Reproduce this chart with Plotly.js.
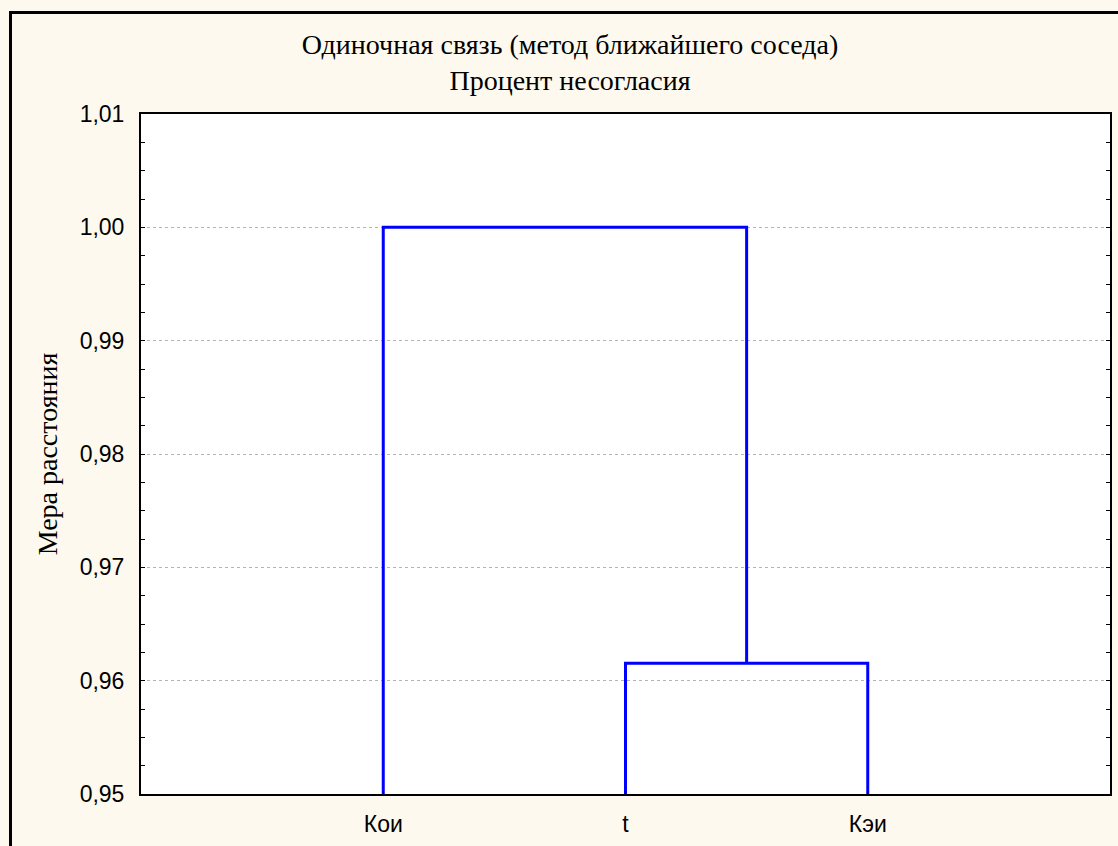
<!DOCTYPE html>
<html>
<head>
<meta charset="utf-8">
<script src="https://cdn.plot.ly/plotly-3.0.1.min.js"></script>
<style>
html,body{margin:0;padding:0;background:#FEF9EE;overflow:hidden;}
#wrap{position:relative;width:1118px;height:846px;overflow:hidden;}
#chart{width:1118px;height:846px;}
#frame{position:absolute;left:9px;top:11px;width:1200px;height:1000px;border-left:3px solid #000;border-top:3px solid #000;pointer-events:none;box-sizing:border-box;}
#mask{position:absolute;left:1112px;top:14px;width:10px;height:96px;background:#FEF9EE;pointer-events:none;}
</style>
</head>
<body>
<div id="wrap"><div id="chart"></div><div id="frame"></div><div id="mask"></div></div>
<script>
// ---- data ----
const leafLabels = ['Кои', 't', 'Кэи'];
// linkage: indices < n are leaves, index n+k is the cluster made at merge k
const mergeA = [1, 0];
const mergeB = [2, 3];
const mergeHeight = [0.961538, 1.00];
const yTickVals = [0.95, 0.96, 0.97, 0.98, 0.99, 1.00, 1.01];
const titleText = 'Одиночная связь (метод ближайшего соседа)<br>Процент несогласия';
const yTitle = 'Мера расстояния';

// ---- build dendrogram links ----
const yMin = 0.95, yMax = 1.01;
const n = leafLabels.length;
const nodeX = leafLabels.map((_, i) => i + 1);
const nodeY = leafLabels.map(() => yMin);
const xs = [], ys = [];
for (let k = 0; k < mergeHeight.length; k++) {
  const a = mergeA[k], b = mergeB[k], h = mergeHeight[k];
  xs.push(nodeX[a], nodeX[a], nodeX[b], nodeX[b], null);
  ys.push(nodeY[a], h, h, nodeY[b], null);
  nodeX.push((nodeX[a] + nodeX[b]) / 2);
  nodeY.push(h);
}

const W = 1118, H = 846;
const mL = 141, mT = 114, mR = 8, mB = 52;

const data = [{
  type: 'scatter', mode: 'lines', x: xs, y: ys,
  line: {color: '#0000FF', width: 3},
  hoverinfo: 'skip', showlegend: false, cliponaxis: false
}];

const sansFont = '"Liberation Sans", Arial, sans-serif';
const serifFont = '"Liberation Serif", "Times New Roman", serif';

const layout = {
  width: W, height: H,
  margin: {l: mL, r: mR, t: mT, b: mB},
  paper_bgcolor: '#FEF9EE', plot_bgcolor: '#FFFFFF',
  separators: ', ',
  showlegend: false,
  font: {family: sansFont, size: 23, color: '#000'},
  title: {
    text: titleText,
    font: {family: serifFont, size: 28, color: '#000'},
    x: 570 / W, xanchor: 'center', xref: 'container',
    y: 1 - 54 / H, yanchor: 'top', yref: 'container'
  },
  xaxis: {
    range: [0, n + 1], tickmode: 'array', tickvals: leafLabels.map((_, i) => i + 1), ticktext: leafLabels,
    showgrid: false, zeroline: false,
    showline: true, linecolor: '#000', linewidth: 2, mirror: true,
    ticks: 'inside', ticklen: 3, tickcolor: '#000', tickwidth: 1,
    tickfont: {family: sansFont, size: 23, color: '#000'},
    ticklabelstandoff: 8,
    fixedrange: true
  },
  yaxis: {
    range: [yMin, yMax], tickmode: 'array', tickvals: yTickVals, tickformat: '.2f',
    showgrid: true, gridcolor: '#B4B4B4', gridwidth: 1, griddash: 'dot',
    zeroline: false,
    showline: true, linecolor: '#000', linewidth: 2, mirror: 'ticks',
    ticks: 'inside', ticklen: 4, tickcolor: '#000', tickwidth: 1,
    minor: {dtick: 0.0025, tick0: 0.95, ticks: 'inside', ticklen: 4, tickcolor: '#000', tickwidth: 1, showgrid: false},
    tickfont: {family: sansFont, size: 23, color: '#000'},
    ticklabelstandoff: 10,
    title: {
      text: yTitle, standoff: 14,
      font: {family: serifFont, size: 28, color: '#000'}
    },
    fixedrange: true
  }
};

Plotly.newPlot('chart', data, layout, {staticPlot: true, displayModeBar: false});
</script>
</body>
</html>
